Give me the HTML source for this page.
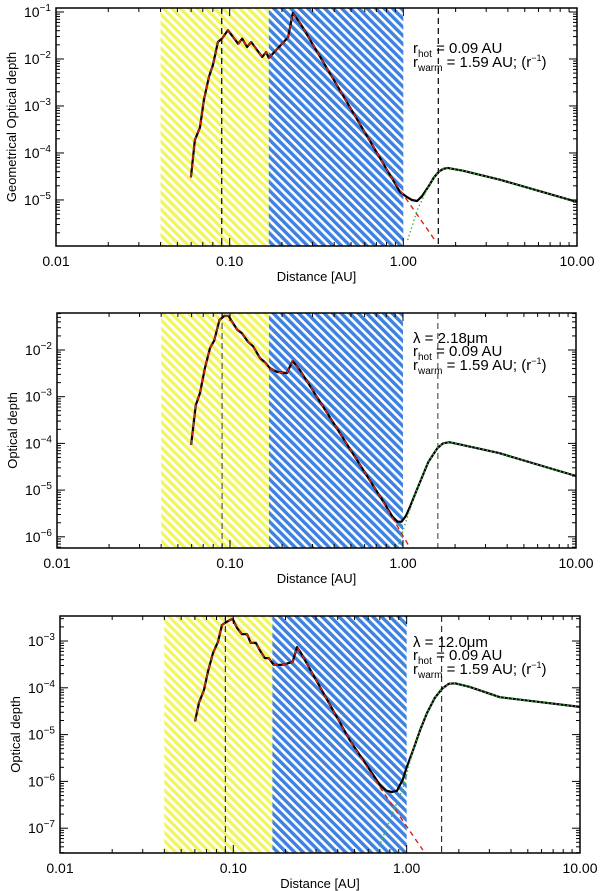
<!DOCTYPE html>
<html><head><meta charset="utf-8"><style>
html,body{margin:0;padding:0;background:#fff;}
svg{display:block;font-family:"Liberation Sans",Arial,sans-serif;}
</style></head>
<body>
<svg id="chart" width="600" height="891" viewBox="0 0 600 891" xmlns="http://www.w3.org/2000/svg">
<defs>
<pattern id="hatchY" patternUnits="userSpaceOnUse" width="6" height="6" patternTransform="rotate(-45)">
<rect width="6" height="6" fill="#ffffff"/><rect width="3.2" height="6" fill="#f2f55c"/>
</pattern>
<pattern id="hatchB" patternUnits="userSpaceOnUse" width="6" height="6" patternTransform="rotate(-45)">
<rect width="6" height="6" fill="#ffffff"/><rect width="3.4" height="6" fill="#3d82e0"/>
</pattern>
</defs>
</svg>
<script>
// ---- data ----
const xTickLabels = ["0.01", "0.10", "1.00", "10.00"];
const xTickValues = [0.01, 0.1, 1, 10];
const zoneHot = [0.04, 0.168];
const zoneWarm = [0.168, 1.0];
const rHot = 0.09;
const rWarm = 1.59;

const p1R = [0.0598,0.0631,0.0675,0.0711,0.076,0.0801,0.0856,0.0902,0.0977,0.112,0.118,0.126,0.133,0.154,0.162,0.168,0.217,0.231,0.254,0.87,0.955,1.05,1.12,1.2,1.28,1.39,1.5,1.6,1.7,1.8,2.2,3.6,10];
const p1T = [3.0e-5,1.9e-4,3.5e-4,1.35e-3,4.2e-3,7.4e-3,2.3e-2,2.7e-2,4.1e-2,2.1e-2,2.7e-2,1.8e-2,2.3e-2,1.1e-2,1.4e-2,1.05e-2,2.9e-2,9.5e-2,5.9e-2,2.7e-5,1.5e-5,1.15e-5,1.0e-5,9.5e-6,1.2e-5,1.9e-5,3.0e-5,4.0e-5,4.6e-5,4.8e-5,4.2e-5,2.7e-5,9.1e-6];
const p1InnerR = [0.0598,0.0631,0.0675,0.0711,0.076,0.0801,0.0856,0.0902,0.0977,0.112,0.118,0.126,0.133,0.154,0.162,0.168,0.217,0.231,0.254,0.87,1.52];
const p1InnerT = [3.0e-5,1.9e-4,3.5e-4,1.35e-3,4.2e-3,7.4e-3,2.3e-2,2.7e-2,4.1e-2,2.1e-2,2.7e-2,1.8e-2,2.3e-2,1.1e-2,1.4e-2,1.05e-2,2.9e-2,9.5e-2,5.9e-2,2.7e-5,1.4e-6];
const p1OuterR = [1.06,1.2,1.39,1.5,1.6,1.7,1.8,2.2,3.6,10];
const p1OuterT = [1.4e-6,6e-6,1.9e-5,3.0e-5,4.0e-5,4.6e-5,4.8e-5,4.2e-5,2.7e-5,9.1e-6];

const p2R = [0.0596,0.0634,0.0671,0.0716,0.0766,0.081,0.087,0.093,0.098,0.11,0.117,0.127,0.136,0.149,0.159,0.17,0.187,0.213,0.23,0.254,0.74,0.875,0.93,0.98,1.04,1.1,1.2,1.4,1.58,1.7,1.85,2.2,3.6,10];
const p2T = [9.3e-5,6.6e-4,1.2e-3,4.1e-3,1.1e-2,1.6e-2,4.4e-2,5.4e-2,5.4e-2,2.7e-2,2.3e-2,1.5e-2,1.2e-2,6.7e-3,5.5e-3,4.1e-3,3.4e-3,3.2e-3,5.8e-3,3.7e-3,7.1e-6,2.6e-6,2.1e-6,2.1e-6,2.8e-6,4.5e-6,1.0e-5,4.0e-5,7.9e-5,1.0e-4,1.06e-4,9.3e-5,6.2e-5,2.0e-5];
const p2InnerR = [0.0596,0.0634,0.0671,0.0716,0.0766,0.081,0.087,0.093,0.098,0.11,0.117,0.127,0.136,0.149,0.159,0.17,0.187,0.213,0.23,0.254,0.74,1.10];
const p2InnerT = [9.3e-5,6.6e-4,1.2e-3,4.1e-3,1.1e-2,1.6e-2,4.4e-2,5.4e-2,5.4e-2,2.7e-2,2.3e-2,1.5e-2,1.2e-2,6.7e-3,5.5e-3,4.1e-3,3.4e-3,3.2e-3,5.8e-3,3.7e-3,7.1e-6,5.7e-7];
const p2OuterR = [0.93,1.05,1.2,1.4,1.58,1.7,1.85,2.2,3.6,10];
const p2OuterT = [5.7e-7,2.4e-6,1.0e-5,4.0e-5,7.9e-5,1.0e-4,1.06e-4,9.3e-5,6.2e-5,2.0e-5];

const p3R = [0.0601,0.0634,0.0677,0.0713,0.0763,0.0815,0.086,0.092,0.099,0.105,0.112,0.12,0.126,0.135,0.142,0.152,0.16,0.171,0.193,0.22,0.233,0.243,0.47,0.70,0.76,0.82,0.88,0.95,1.0,1.09,1.2,1.31,1.45,1.6,1.75,1.9,2.3,3.45,10];
const p3T = [1.9e-5,4.8e-5,9e-5,2.2e-4,5.5e-4,9.5e-4,2.2e-3,2.6e-3,3.0e-3,1.9e-3,1.4e-3,1.4e-3,9.1e-4,9.1e-4,6.4e-4,4.3e-4,4.3e-4,3.1e-4,3.1e-4,3.6e-4,7.4e-4,5.9e-4,7.6e-6,8.5e-7,6.4e-7,5.9e-7,6.3e-7,1.1e-6,2.0e-6,4.7e-6,1.3e-5,2.9e-5,6.0e-5,9.5e-5,1.22e-4,1.25e-4,1.05e-4,6.3e-5,3.9e-5];
const p3InnerR = [0.0601,0.0634,0.0677,0.0713,0.0763,0.0815,0.086,0.092,0.099,0.105,0.112,0.12,0.126,0.135,0.142,0.152,0.16,0.171,0.193,0.22,0.233,0.243,0.47,0.70,1.24];
const p3InnerT = [1.9e-5,4.8e-5,9e-5,2.2e-4,5.5e-4,9.5e-4,2.2e-3,2.6e-3,3.0e-3,1.9e-3,1.4e-3,1.4e-3,9.1e-4,9.1e-4,6.4e-4,4.3e-4,4.3e-4,3.1e-4,3.1e-4,3.6e-4,7.4e-4,5.9e-4,7.6e-6,7.6e-7,3.4e-8];
const p3OuterR = [0.68,0.95,1.09,1.2,1.31,1.45,1.6,1.75,1.9,2.3,3.45,10];
const p3OuterT = [3.4e-8,7e-7,4.7e-6,1.3e-5,2.9e-5,6.0e-5,9.5e-5,1.22e-4,1.25e-4,1.05e-4,6.3e-5,3.9e-5];

const p1YTicks = [-1,-2,-3,-4,-5];
const p2YTicks = [-2,-3,-4,-5,-6];
const p3YTicks = [-3,-4,-5,-6,-7];

// ---- drawing ----
const NS = "http://www.w3.org/2000/svg";
const svg = document.getElementById("chart");
function mk(tag, attrs, parent) {
  const e = document.createElementNS(NS, tag);
  for (const k in attrs) e.setAttribute(k, attrs[k]);
  (parent || svg).appendChild(e);
  return e;
}

function drawPanel(id, L, R, T, B, yTop, yBot, yTicks, yTitle, rArr, tArr, iR, iT, oR, oT, lam, textBase, dashColor) {
  const g = mk("g", {});
  
  
  const xs = v => L + (Math.log10(v) + 2) / 3 * (R - L);
  const ys = v => T + (yTop - Math.log10(v)) / (yTop - yBot) * (B - T);
  const clip = mk("clipPath", {id: id + "-clip"}, g);
  mk("rect", {x: L, y: T, width: R - L, height: B - T}, clip);
  const inner = mk("g", {"clip-path": "url(#" + id + "-clip)"}, g);

  const zh = mk("rect", {x: xs(zoneHot[0]), y: T, width: xs(zoneHot[1]) - xs(zoneHot[0]), height: B - T, fill: "url(#hatchY)"}, inner);
  
  
  const zw = mk("rect", {x: xs(zoneWarm[0]), y: T, width: xs(zoneWarm[1]) - xs(zoneWarm[0]), height: B - T, fill: "url(#hatchB)"}, inner);
  
  

  [rHot, rWarm].forEach((r, i) => {
    const l = mk("line", {x1: xs(r), x2: xs(r), y1: T, y2: B, stroke: dashColor, "stroke-width": 1.2, "stroke-dasharray": "6,4"}, inner);
    
    
  });

  const pts = (ra, ta) => ra.map((r, i) => xs(r).toFixed(1) + "," + ys(ta[i]).toFixed(1)).join(" ");
  const tot = mk("polyline", {points: pts(rArr, tArr), fill: "none", stroke: "#000", "stroke-width": 2.2, "stroke-linejoin": "round"}, inner);
  
  
  const inn = mk("polyline", {points: pts(iR, iT), fill: "none", stroke: "#e0201a", "stroke-width": 1.4, "stroke-dasharray": "5,4"}, inner);
  
  
  const out = mk("polyline", {points: pts(oR, oT), fill: "none", stroke: "#3cb83c", "stroke-width": 1.4, "stroke-dasharray": "1.5,2.5"}, inner);
  
  

  const frame = mk("rect", {x: L, y: T, width: R - L, height: B - T, fill: "none", stroke: "#000", "stroke-width": 1.5}, g);
  
  

  for (let d = -2; d <= 0; d++) {
    for (let m = 1; m <= 9; m++) {
      const x = xs(m * Math.pow(10, d));
      const len = m === 1 ? 8 : 4;
      mk("line", {x1: x, x2: x, y1: B, y2: B - len, stroke: "#000", "stroke-width": 1}, g);
      mk("line", {x1: x, x2: x, y1: T, y2: T + len, stroke: "#000", "stroke-width": 1}, g);
    }
  }
  xTickValues.forEach((v, i) => {
    const t = mk("text", {x: xs(v), y: B + 20, "text-anchor": "middle", "font-size": 14, fill: "#000"}, g);
    t.textContent = xTickLabels[i];
    
    
  });
  const xt = mk("text", {x: (L + R) / 2, y: B + 35, "text-anchor": "middle", "font-size": 13, fill: "#000"}, g);
  xt.textContent = "Distance [AU]";
  
  

  for (let d = Math.floor(yBot); d <= Math.ceil(yTop); d++) {
    for (let m = 1; m <= 9; m++) {
      const lv = d + Math.log10(m);
      if (lv > yTop || lv < yBot) continue;
      const y = ys(Math.pow(10, lv));
      const len = m === 1 ? 8 : 4;
      mk("line", {x1: L, x2: L + len, y1: y, y2: y, stroke: "#000", "stroke-width": 1}, g);
      mk("line", {x1: R, x2: R - len, y1: y, y2: y, stroke: "#000", "stroke-width": 1}, g);
    }
  }
  yTicks.forEach(e => {
    const y = ys(Math.pow(10, e));
    const t = mk("text", {x: L - 5, y: y + 5, "text-anchor": "end", "font-size": 14, fill: "#000"}, g);
    
    
    const a = mk("tspan", {}, t); a.textContent = "10";
    const b = mk("tspan", {dy: -6, "font-size": 10}, t); b.textContent = "\u2212" + Math.abs(e);
  });
  const yt = mk("text", {x: 0, y: 0, "text-anchor": "middle", "font-size": 13, fill: "#000", transform: "translate(" + (L - 40) + "," + ((T + B) / 2) + ") rotate(-90)"}, g);
  yt.textContent = yTitle;
  
  

  const tx = 413;
  let y0 = textBase;
  if (lam) {
    const t = mk("text", {x: tx, y: y0, "font-size": 15, fill: "#000"}, g);
    t.textContent = "\u03bb = " + lam;
    
    
    y0 += 13;
  }
  const h = mk("text", {x: tx, y: y0, "font-size": 15, fill: "#000"}, g);
  
  
  let s = mk("tspan", {}, h); s.textContent = "r";
  s = mk("tspan", {dy: 4, "font-size": 10}, h); s.textContent = "hot";
  s = mk("tspan", {dy: -4}, h); s.textContent = " = 0.09 AU";
  y0 += 14;
  const w = mk("text", {x: tx, y: y0, "font-size": 15, fill: "#000"}, g);
  
  
  s = mk("tspan", {}, w); s.textContent = "r";
  s = mk("tspan", {dy: 4, "font-size": 10}, w); s.textContent = "warm";
  s = mk("tspan", {dy: -4}, w); s.textContent = " = 1.59 AU; (r";
  s = mk("tspan", {dy: -6, "font-size": 9}, w); s.textContent = "\u22121";
  s = mk("tspan", {dy: 6}, w); s.textContent = ")";
}

drawPanel("panel-geometrical", 56, 577, 8, 246, -0.915, -5.98, p1YTicks, "Geometrical Optical depth", p1R, p1T, p1InnerR, p1InnerT, p1OuterR, p1OuterT, null, 53, "#000");
drawPanel("panel-2-18um", 57, 576, 313, 548, -1.208, -6.24, p2YTicks, "Optical depth", p2R, p2T, p2InnerR, p2InnerT, p2OuterR, p2OuterT, "2.18\u03bcm", 343, "#555");
drawPanel("panel-12um", 60, 580, 616, 853, -2.466, -7.53, p3YTicks, "Optical depth", p3R, p3T, p3InnerR, p3InnerT, p3OuterR, p3OuterT, "12.0\u03bcm", 647, "#333");
</script>
</body></html>
